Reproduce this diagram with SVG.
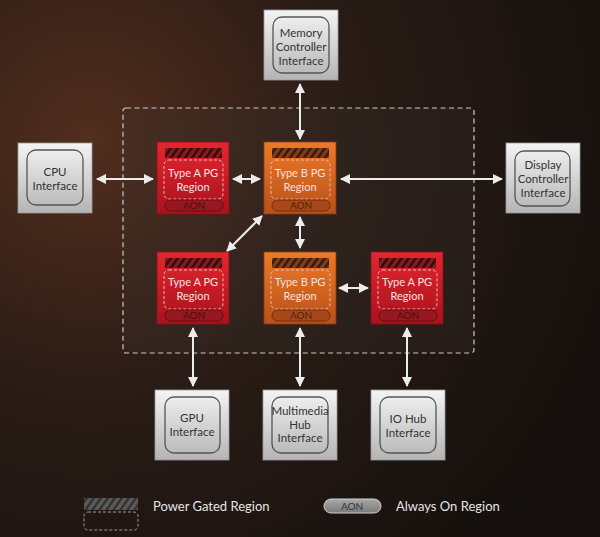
<svg xmlns="http://www.w3.org/2000/svg" width="600" height="537" viewBox="0 0 600 537">
<defs>
  <radialGradient id="bg" cx="90" cy="140" r="560" gradientUnits="userSpaceOnUse">
    <stop offset="0" stop-color="#522e1e"/>
    <stop offset="0.45" stop-color="#2a1c16"/>
    <stop offset="1" stop-color="#15100d"/>
  </radialGradient>
  <linearGradient id="gray" x1="0" y1="0" x2="0" y2="1">
    <stop offset="0" stop-color="#f4f4f4"/>
    <stop offset="1" stop-color="#b4b4b4"/>
  </linearGradient>
  <linearGradient id="red" x1="0" y1="0" x2="0" y2="1">
    <stop offset="0" stop-color="#e42630"/>
    <stop offset="1" stop-color="#a8121c"/>
  </linearGradient>
  <linearGradient id="orange" x1="0" y1="0" x2="0" y2="1">
    <stop offset="0" stop-color="#ec7a26"/>
    <stop offset="1" stop-color="#b8501a"/>
  </linearGradient>
  <linearGradient id="pillgray" x1="0" y1="0" x2="0" y2="1">
    <stop offset="0" stop-color="#a8a8a8"/>
    <stop offset="1" stop-color="#7a7a7a"/>
  </linearGradient>
  <pattern id="hatchA" width="7" height="12" patternUnits="userSpaceOnUse" patternTransform="skewX(-35)">
    <rect width="7" height="12" fill="#7e1c1e"/>
    <rect width="3" height="12" fill="#3a0a0a"/>
  </pattern>
  <pattern id="hatchB" width="7" height="12" patternUnits="userSpaceOnUse" patternTransform="skewX(-35)">
    <rect width="7" height="12" fill="#7e3c1c"/>
    <rect width="3" height="12" fill="#3a1a0a"/>
  </pattern>
  <pattern id="hatchL" width="7" height="12" patternUnits="userSpaceOnUse" patternTransform="skewX(-35)">
    <rect width="7" height="12" fill="#5a5a5a"/>
    <rect width="3" height="12" fill="#333333"/>
  </pattern>
  <marker id="ah" viewBox="0 0 10 10" refX="9" refY="5" markerWidth="5" markerHeight="5" orient="auto-start-reverse" markerUnits="strokeWidth">
    <path d="M0,0 L10,5 L0,10 z" fill="#ececec"/>
  </marker>
</defs>
<style>
  .gbox{fill:url(#gray);stroke:#9a9a9a;stroke-width:0.8}
  .ginner{fill:none;stroke:#555;stroke-width:1.3}
  .gtxt{font-family:Lato,"Open Sans",sans-serif;font-size:11.5px;fill:#333;text-anchor:middle}
  .btxt{font-family:Lato,"Open Sans",sans-serif;font-size:11px;fill:#f8e0e0;text-anchor:middle}
  .aon{font-family:Lato,"Open Sans",sans-serif;font-size:10px;text-anchor:middle}
  .dash{fill:none;stroke:#f2b4b0;stroke-width:1;stroke-dasharray:3 2}
  .conn{stroke:#ececec;stroke-width:2;fill:none;marker-start:url(#ah);marker-end:url(#ah)}
  .leg{font-family:Lato,"Open Sans",sans-serif;font-size:13px;fill:#e4e4e4}
  .pillA{fill:#961820;stroke:#660c10;stroke-width:1}
  .pillB{fill:#a8481a;stroke:#6e2e0e;stroke-width:1}
</style>
<rect width="600" height="537" fill="url(#bg)"/>

<g id="pg-domain">
  <rect x="123" y="108" width="351" height="245" rx="3" fill="#3a3530" fill-opacity="0.25" stroke="#cfc8c0" stroke-width="1.2" stroke-dasharray="5 3.5"/>
</g>

<g id="memory">
  <rect class="gbox" x="264" y="10" width="74" height="70"/>
  <rect class="ginner" x="273" y="17" width="56" height="56" rx="9"/>
  <text class="gtxt" x="301" y="37">Memory</text>
  <text class="gtxt" x="301" y="51">Controller</text>
  <text class="gtxt" x="301" y="65">Interface</text>
</g>
<g id="cpu">
  <rect class="gbox" x="18" y="143" width="74" height="70"/>
  <rect class="ginner" x="27" y="150" width="56" height="55" rx="9"/>
  <text class="gtxt" x="55" y="176">CPU</text>
  <text class="gtxt" x="55" y="190">Interface</text>
</g>
<g id="display">
  <rect class="gbox" x="506" y="143" width="74" height="70"/>
  <rect class="ginner" x="515" y="151" width="55" height="55" rx="9"/>
  <text class="gtxt" x="543" y="169">Display</text>
  <text class="gtxt" x="543" y="183">Controller</text>
  <text class="gtxt" x="543" y="197">Interface</text>
</g>
<g id="gpu">
  <rect class="gbox" x="155" y="390" width="74" height="70"/>
  <rect class="ginner" x="165" y="397" width="55" height="56" rx="9"/>
  <text class="gtxt" x="192" y="422">GPU</text>
  <text class="gtxt" x="192" y="436">Interface</text>
</g>
<g id="multimedia">
  <rect class="gbox" x="263" y="390" width="74" height="70"/>
  <rect class="ginner" x="272" y="397" width="56" height="56" rx="9"/>
  <text class="gtxt" x="300" y="415">Multimedia</text>
  <text class="gtxt" x="300" y="429">Hub</text>
  <text class="gtxt" x="300" y="442">Interface</text>
</g>
<g id="iohub">
  <rect class="gbox" x="371" y="390" width="74" height="70"/>
  <rect class="ginner" x="380" y="397" width="56" height="56" rx="9"/>
  <text class="gtxt" x="408" y="423">IO Hub</text>
  <text class="gtxt" x="408" y="437">Interface</text>
</g>

<g id="typeA1">
  <rect x="157" y="142" width="72" height="72" fill="url(#red)" stroke="#8a1016" stroke-width="0.8"/>
  <rect x="165" y="148" width="57" height="10" fill="url(#hatchA)"/>
  <rect class="dash" x="164" y="160" width="59" height="39" rx="5"/>
  <text class="btxt" x="193" y="177">Type A PG</text>
  <text class="btxt" x="193" y="191">Region</text>
  <rect class="pillA" x="165" y="200" width="58" height="11" rx="5.5"/>
  <text class="aon" x="194" y="209" fill="#4e0e0e">AON</text>
</g>
<g id="typeB1">
  <rect x="264" y="142" width="72" height="72" fill="url(#orange)" stroke="#8a3e14" stroke-width="0.8"/>
  <rect x="272" y="148" width="57" height="10" fill="url(#hatchB)"/>
  <rect class="dash" x="271" y="160" width="59" height="39" rx="5"/>
  <text class="btxt" x="300" y="177">Type B PG</text>
  <text class="btxt" x="300" y="191">Region</text>
  <rect class="pillB" x="272" y="200" width="58" height="11" rx="5.5"/>
  <text class="aon" x="301" y="209" fill="#4e220c">AON</text>
</g>
<g id="typeA2">
  <rect x="157" y="252" width="72" height="72" fill="url(#red)" stroke="#8a1016" stroke-width="0.8"/>
  <rect x="165" y="258" width="57" height="10" fill="url(#hatchA)"/>
  <rect class="dash" x="164" y="270" width="59" height="39" rx="5"/>
  <text class="btxt" x="193" y="286">Type A PG</text>
  <text class="btxt" x="193" y="300">Region</text>
  <rect class="pillA" x="165" y="310" width="58" height="11" rx="5.5"/>
  <text class="aon" x="194" y="319" fill="#4e0e0e">AON</text>
</g>
<g id="typeB2">
  <rect x="264" y="252" width="72" height="72" fill="url(#orange)" stroke="#8a3e14" stroke-width="0.8"/>
  <rect x="272" y="258" width="57" height="10" fill="url(#hatchB)"/>
  <rect class="dash" x="271" y="270" width="59" height="39" rx="5"/>
  <text class="btxt" x="300" y="286">Type B PG</text>
  <text class="btxt" x="300" y="300">Region</text>
  <rect class="pillB" x="272" y="310" width="58" height="11" rx="5.5"/>
  <text class="aon" x="301" y="319" fill="#4e220c">AON</text>
</g>
<g id="typeA3">
  <rect x="371" y="252" width="72" height="72" fill="url(#red)" stroke="#8a1016" stroke-width="0.8"/>
  <rect x="379" y="258" width="57" height="10" fill="url(#hatchA)"/>
  <rect class="dash" x="378" y="270" width="59" height="39" rx="5"/>
  <text class="btxt" x="407" y="286">Type A PG</text>
  <text class="btxt" x="407" y="300">Region</text>
  <rect class="pillA" x="379" y="310" width="58" height="11" rx="5.5"/>
  <text class="aon" x="408" y="319" fill="#4e0e0e">AON</text>
</g>

<g id="connectors">
  <line class="conn" x1="300" y1="84" x2="300" y2="139"/>
  <line class="conn" x1="97" y1="179" x2="153" y2="179"/>
  <line class="conn" x1="233" y1="179" x2="260" y2="179"/>
  <line class="conn" x1="341" y1="179" x2="502" y2="179"/>
  <line class="conn" x1="262" y1="216" x2="227" y2="251"/>
  <line class="conn" x1="300" y1="217" x2="300" y2="248"/>
  <line class="conn" x1="339" y1="288" x2="368" y2="288"/>
  <line class="conn" x1="193" y1="328" x2="193" y2="386"/>
  <line class="conn" x1="300" y1="328" x2="300" y2="386"/>
  <line class="conn" x1="407" y1="328" x2="407" y2="386"/>
</g>

<g id="legend">
  <rect x="84" y="498" width="54" height="12" fill="url(#hatchL)"/>
  <rect x="84" y="512" width="54" height="18" rx="4" fill="none" stroke="#9a9a9a" stroke-width="1" stroke-dasharray="3 2"/>
  <text class="leg" x="153" y="511">Power Gated Region</text>
  <rect x="324" y="499" width="57" height="14" rx="7" fill="url(#pillgray)" stroke="#cfcfcf" stroke-width="1"/>
  <text class="aon" x="352" y="510" fill="#333">AON</text>
  <text class="leg" x="396" y="511">Always On Region</text>
</g>
</svg>
